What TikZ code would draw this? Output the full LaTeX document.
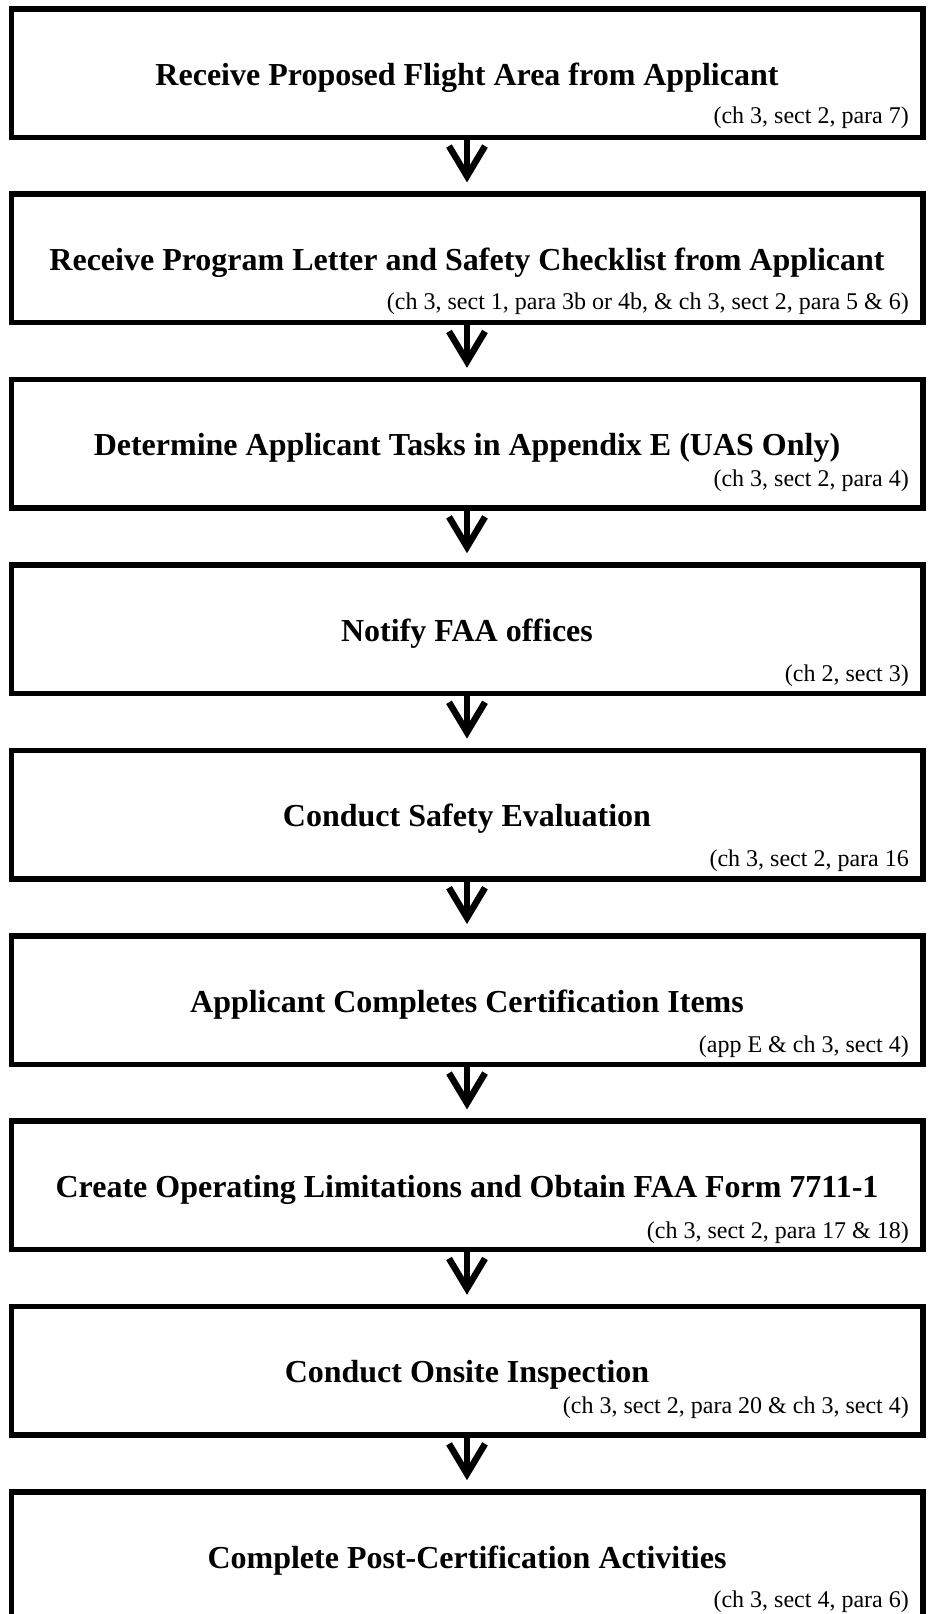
\documentclass[tikz,border=0pt]{standalone}
\usepackage{fontspec}
\setmainfont{Liberation Serif}
\usetikzlibrary{arrows.meta}
\tikzset{
  boxnode/.style={draw=black, line width=5.5pt, minimum width=911.5pt, minimum height=128.5pt, inner sep=0pt, outer sep=0pt},
  titletext/.style={anchor=base, inner sep=0pt, font=\bfseries\fontsize{32}{38}\selectfont},
  notetext/.style={anchor=base east, inner sep=0pt, font=\fontsize{24}{29}\selectfont},
  conn/.style={line width=5.5pt, -{Straight Barb[length=30pt,width=36pt,line width=6.5pt]}, shorten >=11.75pt}
}
\newcommand{\flowbox}[5]{%
  \node[boxnode] (#1) at (467, {-(#2+67)}) {};
  \node[titletext] (#1t) at (467, {-(#2+79)}) {#3};
  \node[notetext] (#1n) at (909, {-(#2+#5)}) {#4};
}
\begin{document}
\begin{tikzpicture}[x=1pt, y=1pt]
\useasboundingbox (0,0) rectangle (928,-1614);
\flowbox{b1}{6}{Receive Proposed Flight Area from Applicant}{(ch 3, sect 2, para 7)}{117}
\flowbox{b2}{191.4}{Receive Program Letter and Safety Checklist from Applicant}{(ch 3, sect 1, para 3b or 4b, \& ch 3, sect 2, para 5 \& 6)}{118}
\flowbox{b3}{376.8}{Determine Applicant Tasks in Appendix E (UAS Only)}{(ch 3, sect 2, para 4)}{110}
\flowbox{b4}{562.2}{Notify FAA offices}{(ch 2, sect 3)}{119}
\flowbox{b5}{747.6}{Conduct Safety Evaluation}{(ch 3, sect 2, para 16}{119}
\flowbox{b6}{933}{Applicant Completes Certification Items}{(app E \& ch 3, sect 4)}{119}
\flowbox{b7}{1118.4}{Create Operating Limitations and Obtain FAA Form 7711-1}{(ch 3, sect 2, para 17 \& 18)}{120}
\flowbox{b8}{1303.8}{Conduct Onsite Inspection}{(ch 3, sect 2, para 20 \& ch 3, sect 4)}{110}
\flowbox{b9}{1489.2}{Complete Post-Certification Activities}{(ch 3, sect 4, para 6)}{118}
\draw[conn] (b1.south) -- (b2.north);
\draw[conn] (b2.south) -- (b3.north);
\draw[conn] (b3.south) -- (b4.north);
\draw[conn] (b4.south) -- (b5.north);
\draw[conn] (b5.south) -- (b6.north);
\draw[conn] (b6.south) -- (b7.north);
\draw[conn] (b7.south) -- (b8.north);
\draw[conn] (b8.south) -- (b9.north);
\end{tikzpicture}
\end{document}
